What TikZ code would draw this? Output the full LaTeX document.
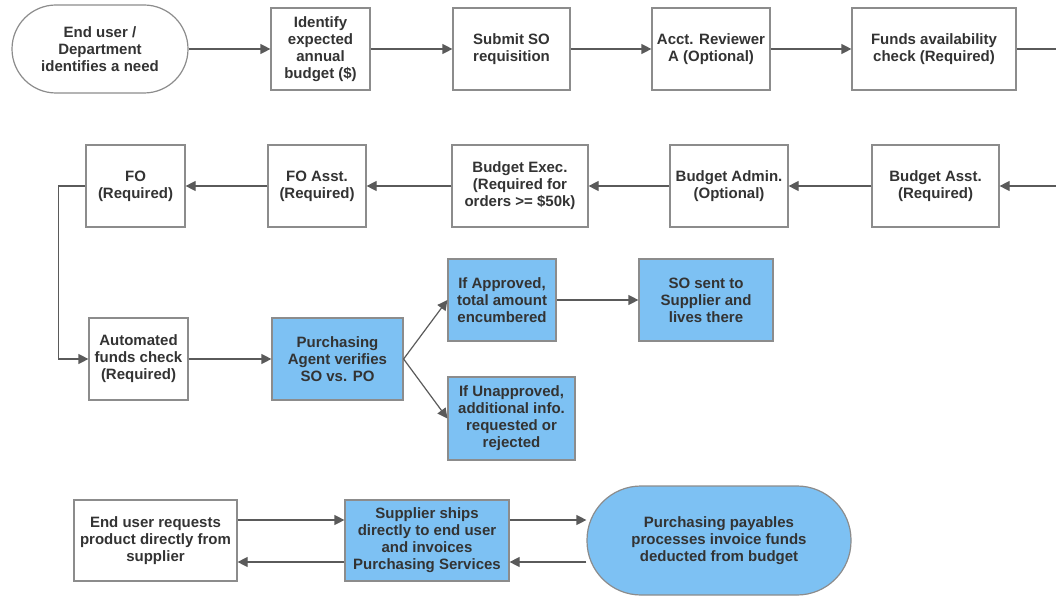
\documentclass[tikz,border=0pt]{standalone}
\usepackage{fontspec}
\setmainfont{Liberation Sans}
\usetikzlibrary{arrows.meta}
\definecolor{edge}{HTML}{8C8C8C}
\definecolor{wire}{HTML}{5A5A5A}
\definecolor{ink}{HTML}{333333}
\definecolor{sky}{HTML}{7DC1F3}
\tikzset{
  box/.style={draw=edge, line width=1.2pt, fill=white, text=ink, align=center,
    inner sep=0pt, font=\bfseries\fontsize{15}{17}\selectfont,
    minimum width=#1},
  box/.default=100pt,
  tall/.style={minimum height=82pt},
  bluebox/.style={fill=sky},
  stadium/.style={rounded corners=#1},
  flow/.style={draw=wire, line width=1.2pt, -{Triangle[length=10pt,width=10pt]}},
  plain/.style={draw=wire, line width=1.2pt}
}
\begin{document}
\begin{tikzpicture}[x=1pt,y=-1pt]
\useasboundingbox (0,0) rectangle (1056,596);

% first row: request and budget checks
\node[box=176pt, minimum height=88pt, stadium=44pt] (need) at (100,49) {End user /\\Department\\identifies a need};
\node[box=99pt, tall] (budget) at (320.5,49) {Identify\\expected\\annual\\budget (\$)};
\node[box=117pt, tall] (submit) at (511.5,49) {Submit SO\\requisition};
\node[box=118pt, tall] (acct) at (711,49) {Acct. Reviewer\\A (Optional)};
\node[box=164pt, tall] (funds) at (934,49) {Funds availability\\check (Required)};
\coordinate (rowoneout) at (1056,49);

\draw[flow] (need) -- (budget);
\draw[flow] (budget) -- (submit);
\draw[flow] (submit) -- (acct);
\draw[flow] (acct) -- (funds);
\draw[plain] (funds) -- (rowoneout);

% second row: approvals, right to left
\coordinate (rowtwoin) at (1056,186);
\node[box=127pt, tall] (basst) at (935.5,186) {Budget Asst.\\(Required)};
\node[box=118pt, tall] (badmin) at (729,186) {Budget Admin.\\(Optional)};
\node[box=136pt, tall] (bexec) at (520,186) {Budget Exec.\\(Required for\\orders >= \$50k)};
\node[box=98pt, tall] (foasst) at (317,186) {FO Asst.\\(Required)};
\node[box=99pt, tall] (fo) at (135.5,186) {FO\\(Required)};

\draw[flow] (rowtwoin) -- (basst);
\draw[flow] (basst) -- (badmin);
\draw[flow] (badmin) -- (bexec);
\draw[flow] (bexec) -- (foasst);
\draw[flow] (foasst) -- (fo);

% third row: funds check and purchasing review
\node[box=99pt, tall] (auto) at (138.5,359) {Automated\\funds check\\(Required)};
\node[box=131pt, tall, bluebox] (agent) at (337.5,359) {Purchasing\\Agent verifies\\SO vs. PO};
\node[box=108pt, tall, bluebox] (appr) at (502,300) {If Approved,\\total amount\\encumbered};
\node[box=134pt, tall, bluebox] (sent) at (706,300) {SO sent to\\Supplier and\\lives there};
\node[box=127pt, minimum height=83pt, bluebox] (unappr) at (511.5,418.5) {If Unapproved,\\additional info.\\requested or\\rejected};

\draw[flow] (fo.west) -- ++(-27,0) |- (auto.west);
\draw[flow] (auto) -- (agent);
\draw[flow] (agent.east) -- (appr.west);
\draw[flow] (agent.east) -- (unappr.west);
\draw[flow] (appr) -- (sent);

% fourth row: direct supplier ordering
\node[box=163pt, minimum height=81pt] (req) at (155.5,540.5) {End user requests\\product directly from\\supplier};
\node[box=164pt, minimum height=81pt, bluebox] (ships) at (427,540.5) {Supplier ships\\directly to end user\\and invoices\\Purchasing Services};
\node[box=264pt, minimum height=109pt, bluebox, stadium=54pt] (pay) at (719,540.5) {Purchasing payables\\processes invoice funds\\deducted from budget};

\draw[flow] ([yshift=20.5pt]req.east) -- ([yshift=20.5pt]ships.west);
\draw[flow] ([yshift=-21.5pt]ships.west) -- ([yshift=-21.5pt]req.east);
\draw[flow] ([yshift=20.5pt]ships.east) -- ([yshift=20.5pt]pay.west);
\draw[flow] ([yshift=-21.5pt]pay.west) -- ([yshift=-21.5pt]ships.east);
\end{tikzpicture}
\end{document}
